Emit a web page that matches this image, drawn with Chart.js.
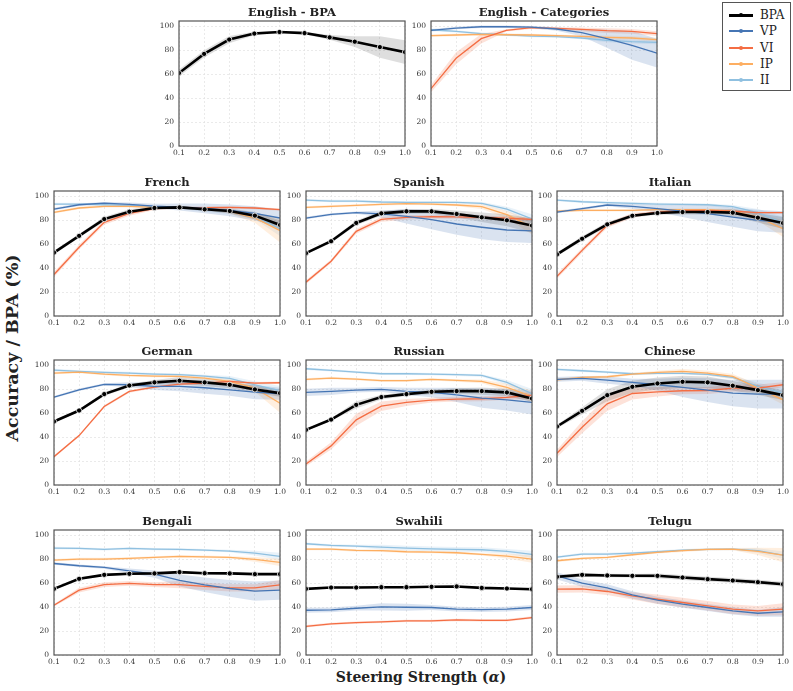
<!DOCTYPE html>
<html>
<head>
<meta charset="utf-8">
<script src="https://cdn.jsdelivr.net/npm/chart.js@4.4.1/dist/chart.umd.min.js"></script>
<style>
  body { margin: 0; background: #fff; }
  #wrap { position: relative; width: 793px; height: 691px; overflow: hidden; font-family: "DejaVu Serif", serif; }
  canvas.panel { position: absolute; }
  #legend { position: absolute; left: 722px; top: 2px; width: 67px; height: 87px; border: 1px solid #555; background: #fff; }
  #legend .row { position: absolute; left: 0; height: 16px; line-height: 16px; font-size: 12px; color: #222; }
  #legend .sw { position: absolute; left: 6px; top: 7px; width: 24px; height: 2px; }
  #legend .dot { position: absolute; left: 10px; top: -1px; width: 4px; height: 4px; border-radius: 2px; }
  #legend .txt { position: absolute; left: 37px; top: 0; }
  .axlabel { position: absolute; font-weight: bold; color: #222; white-space: nowrap; }
</style>
</head>
<body>
<div id="wrap">
  <div id="legend"></div>
  <div class="axlabel" id="ylab" style="left:12px; top:348px; font-size:17.5px; transform: translate(-50%,-50%) rotate(-90deg);">Accuracy / BPA (%)</div>
  <div class="axlabel" id="xlab" style="left:421px; top:677px; font-size:14px; transform: translate(-50%,-50%);">Steering Strength (<i>α</i>)</div>
</div>
<script>
// ---- data ----
const alphas = [0.1, 0.2, 0.3, 0.4, 0.5, 0.6, 0.7, 0.8, 0.9, 1.0];
const yTicks = [0, 20, 40, 60, 80, 100];
const panels = ['English - BPA', 'English - Categories', 'French', 'Spanish', 'Italian',
                'German', 'Russian', 'Chinese', 'Bengali', 'Swahili', 'Telugu'];
const seriesNames = ['BPA', 'VP', 'VI', 'IP', 'II'];

// mean values, one row per panel (null = not plotted)
const BPA = [
  [61, 77, 89, 94, 95.3, 94.4, 90.8, 87.2, 82.7, 78.5],
  null,
  [53, 67, 81, 87.2, 90.3, 90.8, 89.2, 87.8, 83.9, 76.1],
  [52.5, 62.5, 77.8, 85.8, 87.5, 87.5, 85.3, 82.5, 80, 75.6],
  [51.5, 64.6, 76.6, 83.8, 86.1, 86.9, 86.9, 86.4, 82.2, 77.7],
  [53.1, 62.3, 76, 83.2, 85.8, 87.2, 85.8, 83.8, 79.9, 76.8],
  [46.1, 54.7, 67, 73.5, 76, 77.9, 78.5, 78.5, 77.4, 72.3],
  [48.9, 62, 75.1, 82.1, 84.9, 86.3, 85.8, 83, 79.3, 75.1],
  [55.3, 63.7, 67, 67.9, 68.2, 69.3, 68.4, 68.2, 67.6, 67.6],
  [55.3, 56.4, 56.4, 56.7, 56.7, 57, 57.3, 56.1, 55.6, 55],
  [65.4, 67, 66.5, 66.2, 66.2, 64.8, 63.4, 62.3, 60.9, 59.2]
];
const VP = [
  null,
  [96.7, 98.6, 99.7, 99.7, 99.4, 97.8, 94.7, 89.7, 84.1, 77.7],
  [89.4, 93, 94.4, 93.3, 91.9, 91.1, 90, 88.3, 85.8, 81.9],
  [81.9, 85, 86.4, 85.3, 83.3, 80.6, 76.9, 74.2, 71.9, 71.1],
  [86.9, 89.7, 92.8, 91.6, 89.7, 87.7, 85.5, 82.7, 79.9, 78.5],
  [73.5, 79.6, 84.1, 83.8, 82.4, 82.4, 81.3, 79.6, 77.7, 76.3],
  [77.4, 78.2, 79.3, 79.9, 78.2, 77.4, 75.4, 72.6, 71.2, 69],
  [88.3, 89.1, 87.7, 85.8, 83.8, 81.6, 79.3, 76.8, 76, 76],
  [76.5, 74.6, 73.2, 70.4, 67.6, 62.3, 58.7, 55.6, 53.4, 54.2],
  [37.4, 37.7, 39.1, 40.2, 39.9, 39.7, 38.3, 38, 38.3, 39.7],
  [66.2, 60.1, 56.1, 50.3, 45.8, 42.5, 39.7, 36.9, 34.9, 36]
];
const VI = [
  null,
  [47.9, 73.3, 89.7, 96.7, 98.9, 98.3, 97.5, 96.4, 95.8, 93.9],
  [34.7, 57.5, 78.3, 85.8, 89.7, 90.6, 90.6, 90.8, 90.3, 88.9],
  [28.3, 45.8, 70.8, 80.8, 82.5, 83.1, 82.8, 82.5, 81.7, 80.8],
  [33.1, 54.9, 75.8, 84.1, 86.9, 88.3, 88.3, 87.7, 86.4, 86.4],
  [23.7, 41.3, 65.6, 78.2, 81.8, 84.4, 85.2, 86.6, 85.2, 85.5],
  [17.6, 32.7, 54.5, 65.9, 69, 70.9, 71.8, 72.1, 73.2, 74.9],
  [26.5, 48.3, 67.9, 76.5, 77.9, 78.8, 79, 81, 81, 83.8],
  [41.6, 54.2, 58.9, 59.8, 58.9, 58.9, 57.3, 56.1, 56.1, 58.7],
  [24, 26, 27.1, 27.7, 28.5, 28.5, 29.3, 29, 29, 31.3],
  [55, 55.3, 53.1, 49.4, 46.6, 43.9, 41.1, 38.3, 36.9, 38.3]
];
const IP = [
  null,
  [92.2, 92.8, 93.3, 93, 92.8, 92.2, 91.6, 90.8, 90.3, 88.9],
  [86.7, 90.3, 91.7, 91.7, 90.8, 90.8, 89.7, 87.5, 81.9, 71.4],
  [90.8, 91.7, 92.5, 93.3, 93.9, 93.6, 92.8, 91.4, 84.7, 74.2],
  [87.7, 88.3, 88.3, 88.3, 88.9, 88.9, 88.9, 87.7, 82.7, 73],
  [93.6, 94.4, 92.7, 91.6, 91.1, 90.8, 89.4, 86.6, 81, 68.4],
  [88.3, 89.4, 88.5, 87.2, 87.2, 88.3, 87.4, 86.6, 81.6, 74],
  [88, 89.9, 90.5, 92.7, 94.1, 95, 93.6, 90.8, 81, 71.2],
  [79.3, 80.2, 80.2, 80.7, 81.6, 82.4, 82.1, 81.6, 79.9, 77.4],
  [88.5, 88.5, 87.4, 87.2, 86.3, 86, 85.5, 84.1, 82.7, 80.2],
  [78.8, 80.7, 81.6, 83.8, 85.8, 87.2, 88.3, 88.5, 86.6, 83.5]
];
const II = [
  null,
  [97.2, 95.8, 93.9, 93, 91.9, 91.4, 90.3, 88.3, 87.2, 86.6],
  [93.6, 93.6, 93, 92.5, 91.4, 90.6, 89.2, 87.2, 83.9, 72.8],
  [96.9, 96.1, 96.1, 95.3, 95, 95, 95, 94.2, 89.4, 81.1],
  [96.9, 95.5, 94.7, 94.2, 93.6, 93.3, 93, 91.4, 86.4, 78],
  [96.1, 95, 94.1, 93.6, 92.7, 92.2, 91.1, 89.1, 83.8, 78.8],
  [97.2, 95.8, 94.4, 93, 93, 92.7, 92.2, 91.6, 85.8, 76.3],
  [96.6, 95.5, 94.4, 93, 93.3, 93.3, 92.5, 89.9, 82.4, 76.8],
  [89.4, 89.1, 88.3, 89.1, 88.5, 88.3, 87.7, 86.9, 85.2, 82.4],
  [93, 91.6, 91.1, 90.2, 89.4, 88.8, 88.3, 88, 86.6, 84.1],
  [81.8, 84.4, 84.4, 85.2, 86.3, 87.7, 88.3, 88.5, 87.2, 83.5]
];

// confidence band half-widths
const BPA_ci = [
  [3, 3, 3, 1.5, 1, 1, 2, 4.5, 9, 10],
  null,
  [1.5, 1.5, 2, 2, 1, 1, 1.5, 2, 3, 4],
  [1, 1.5, 2, 2, 2, 2, 3, 4, 5, 6],
  [1.5, 2, 2, 1.5, 1.5, 2, 2, 3, 4, 5],
  [1, 1, 1.5, 1.5, 2, 3, 3, 3, 3, 3],
  [1, 1, 3, 2, 1.5, 2, 2.5, 3, 3, 3],
  [1.5, 3, 5, 5, 5, 5, 5, 4, 4, 4],
  [1, 1, 1, 1, 1, 1, 1, 1, 1, 1],
  [0.8, 0.8, 0.8, 0.8, 0.8, 0.8, 0.8, 0.8, 0.8, 1.2],
  [1.5, 1.5, 1.5, 1.5, 2, 2, 2, 2, 2, 2]
];
const VP_ci = [
  null,
  [1, 1, 1, 1, 1, 1.5, 3, 7.5, 12, 12],
  [1, 1, 1, 1.5, 2, 3, 4, 5, 6, 7],
  [1, 1, 1, 3, 6, 8, 9, 10, 10, 10],
  [1, 1, 1, 2, 3, 5, 7, 8, 9, 9],
  [1, 1, 1, 2, 3, 4, 5, 5, 6, 5],
  [3, 3, 2, 2, 3, 4, 6, 8, 9, 10],
  [2, 2, 3, 3, 5, 8, 10, 11, 12, 12],
  [1, 1, 1, 2, 3, 5, 6, 7, 8, 8],
  [2, 2, 2, 3, 3, 2, 2, 2, 2, 2],
  [3, 3, 3, 3, 3, 3, 3, 3, 3, 4]
];
const VI_ci = [
  null,
  [3, 5, 4, 1, 1, 1, 1.5, 2, 2, 2],
  [2, 2, 2, 2, 1, 1, 1, 1, 1, 1],
  [1.5, 1.5, 2, 2, 2, 1.5, 1.5, 1.5, 1.5, 1.5],
  [2, 2, 2, 2, 1, 1, 1, 1, 1, 1],
  [1, 1, 1, 1, 1, 1, 1, 1, 1, 1],
  [2, 3, 5, 4, 3, 2, 2, 2, 2, 3],
  [3, 5, 6, 5, 4, 3, 3, 3, 3, 2],
  [1, 2, 2, 2, 2, 3, 3, 3, 3, 4],
  [1, 1, 1, 1, 1, 1, 1, 1, 1, 1],
  [3, 3, 3, 3, 4, 4, 4, 4, 4, 5]
];
const IP_ci = [
  null,
  [1, 1, 1, 1, 1, 1, 1, 1.5, 1.5, 1.5],
  [1, 1, 1, 1, 1, 1, 1, 2, 4, 10],
  [1, 1, 1, 1, 1, 1, 1, 2, 3, 6],
  [1, 1, 1, 1, 1, 1, 1, 2, 3, 7],
  [1, 1, 1, 1, 1, 1, 1, 2, 3, 8],
  [1, 1, 1, 1, 1, 1, 1, 1.5, 3, 5],
  [1, 1, 1, 1, 1.5, 2, 2, 2, 3, 4],
  [1, 1, 1, 1, 1, 1, 1, 1, 2, 3],
  [1, 1, 1, 1, 1, 1, 1, 1, 2, 3],
  [1, 1, 1, 1, 1, 1, 1, 1, 3, 6]
];
const II_ci = [
  null,
  [1, 1, 1, 1, 1, 1, 1, 1.5, 1.5, 1.5],
  [1, 1, 1, 1, 1, 1, 2, 2, 3, 6],
  [1, 1, 1, 1, 1, 1, 1, 1, 2, 4],
  [1, 1, 1, 1, 1, 1, 1, 1.5, 3, 5],
  [1, 1, 1, 1, 1, 1, 1, 2, 3, 4],
  [1, 1, 1, 1, 1, 1, 1, 1, 2, 4],
  [1, 1, 1, 1, 1, 1, 1, 1.5, 3, 4],
  [1, 1, 1, 1, 1, 1, 1, 1, 2, 3],
  [1, 1, 1, 2, 2, 2, 2, 2, 2, 3],
  [1, 1, 1, 1, 1, 1, 1, 1, 2, 3]
];

// ---- look ----
const seriesVals = [BPA, VP, VI, IP, II];
const seriesCI = [BPA_ci, VP_ci, VI_ci, IP_ci, II_ci];
const colors = ['#000000', '#4575b4', '#f46d43', '#fdae61', '#8fc0e0'];
const bandColors = ['rgba(0,0,0,0.13)', 'rgba(69,117,180,0.2)', 'rgba(244,109,67,0.2)',
                    'rgba(253,174,97,0.2)', 'rgba(143,192,224,0.2)'];
const FONT = 'DejaVu Serif';

// plot-area position of each panel (left, top of frame)
const panelPos = [
  [179, 20.5], [431, 20.5],
  [53.5, 190.5], [305.5, 190.5], [557, 190.5],
  [53.5, 360], [305.5, 360], [557, 360],
  [53.5, 529.5], [305.5, 529.5], [557, 529.5]
];
const plotW = 226, plotH = 125, padL = 30, padR = 10, padT = 19, padB = 14;

// frame round the plot area and the panel title centred over it
const framePlugin = {
  id: 'frame',
  afterDraw(chart) {
    const a = chart.chartArea, ctx = chart.ctx;
    ctx.save();
    ctx.strokeStyle = '#555';
    ctx.lineWidth = 1.2;
    ctx.strokeRect(a.left, a.top, a.right - a.left, a.bottom - a.top);
    ctx.fillStyle = '#222';
    ctx.font = 'bold 11.5px "' + FONT + '"';
    ctx.textAlign = 'center';
    ctx.textBaseline = 'alphabetic';
    ctx.fillText(chart.options.plugins.frame.title, (a.left + a.right) / 2, a.top - 5);
    ctx.restore();
  }
};

const wrap = document.getElementById('wrap');

function makePanel(i) {
  const lines = [], bands = [];
  seriesNames.forEach((name, s) => {
    const vals = seriesVals[s][i];
    if (!vals) return;
    const isBPA = s === 0;
    lines.push({
      label: name,
      data: alphas.map((a, k) => ({ x: a, y: vals[k] })),
      borderColor: colors[s],
      borderWidth: isBPA ? 2.6 : 1.3,
      pointRadius: isBPA ? 2.6 : 0,
      pointBackgroundColor: colors[s],
      pointBorderColor: isBPA ? '#fff' : colors[s],
      pointBorderWidth: isBPA ? 0.8 : 0,
      fill: false,
      tension: 0
    });
    const ci = seriesCI[s][i];
    bands.push({
      label: name + ' hi',
      data: alphas.map((a, k) => ({ x: a, y: vals[k] + ci[k] })),
      borderWidth: 0, pointRadius: 0, fill: false
    });
    bands.push({
      label: name + ' lo',
      data: alphas.map((a, k) => ({ x: a, y: vals[k] - ci[k] })),
      borderWidth: 0, pointRadius: 0, fill: '-1',
      backgroundColor: bandColors[s]
    });
  });

  const cv = document.createElement('canvas');
  cv.className = 'panel';
  const W = plotW + padL + padR;
  const H = plotH + padT + padB;
  cv.width = W; cv.height = H;
  cv.style.width = W + 'px'; cv.style.height = H + 'px';
  wrap.appendChild(cv);

  const chart = new Chart(cv, {
    type: 'line',
    data: { datasets: lines.concat(bands) },
    options: {
      responsive: false,
      animation: false,
      layout: { padding: { left: 0, right: padR, top: padT, bottom: 0 } },
      plugins: {
        legend: { display: false },
        tooltip: { enabled: false },
        title: { display: false },
        frame: { title: panels[i] }
      },
      scales: {
        x: {
          type: 'linear', min: 0.1, max: 1.0,
          afterBuildTicks: sc => { sc.ticks = alphas.map(v => ({ value: v })); },
          afterFit: sc => { sc.height = padB; },
          ticks: { color: '#333', padding: 3, font: { family: FONT, size: 7.5 },
                   maxRotation: 0, autoSkip: false, callback: v => v.toFixed(1) },
          grid: { color: '#e2e2e2', lineWidth: 0.7, drawTicks: false },
          border: { display: false, dash: [2, 2] }
        },
        y: {
          type: 'linear', min: 0, max: 104.5,
          afterBuildTicks: sc => { sc.ticks = yTicks.map(v => ({ value: v })); },
          afterFit: sc => { sc.width = padL; },
          ticks: { color: '#333', padding: 5, font: { family: FONT, size: 7.5 } },
          grid: { color: '#e2e2e2', lineWidth: 0.7, drawTicks: false },
          border: { display: false, dash: [2, 2] }
        }
      }
    },
    plugins: [framePlugin]
  });
  // align the plot area with its place on the page
  const a = chart.chartArea;
  cv.style.left = (panelPos[i][0] - a.left) + 'px';
  cv.style.top = (panelPos[i][1] - a.top) + 'px';
}

panels.forEach((p, i) => makePanel(i));

// legend
const legend = document.getElementById('legend');
seriesNames.forEach((name, s) => {
  const row = document.createElement('div');
  row.className = 'row';
  row.style.top = (4 + s * 16.3) + 'px';
  const sw = document.createElement('span');
  sw.className = 'sw';
  sw.style.background = colors[s];
  if (s === 0) { sw.style.height = '3px'; sw.style.top = '6.5px'; }
  const dot = document.createElement('span');
  dot.className = 'dot';
  dot.style.background = colors[s];
  sw.appendChild(dot);
  const txt = document.createElement('span');
  txt.className = 'txt';
  txt.textContent = name;
  row.appendChild(sw);
  row.appendChild(txt);
  legend.appendChild(row);
});
</script>
</body>
</html>
